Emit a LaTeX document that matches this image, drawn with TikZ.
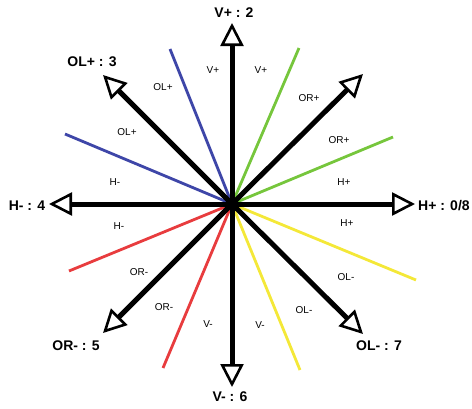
\documentclass[tikz,border=0pt]{standalone}
\usepackage{fontspec}
\setmainfont{Liberation Sans}
\usetikzlibrary{arrows.meta}
\definecolor{cblue}{RGB}{62,70,168}
\definecolor{cgreen}{RGB}{118,198,60}
\definecolor{cred}{RGB}{232,60,62}
\definecolor{cyel}{RGB}{244,232,56}
\tikzset{
  bigarrow/.style={line width=5pt, -{Triangle[open, length=23pt, width=23pt, line width=2.6pt, fill=white]}},
  ray/.style={line width=2.8pt},
  small/.style={font=\fontsize{10}{11}\selectfont, inner sep=0pt},
  big/.style={font=\bfseries\fontsize{14}{15}\selectfont, inner sep=0pt}
}
\begin{document}
\begin{tikzpicture}[x=1pt,y=-1pt]
\useasboundingbox (0,0) rectangle (472,408);
\coordinate (c) at (232,204);
% colored rays
\coordinate (b1) at (170,49);
\coordinate (b2) at (65,134);
\coordinate (g1) at (299,48);
\coordinate (g2) at (393,137);
\coordinate (r1) at (69,271);
\coordinate (r2) at (163,368);
\coordinate (y1) at (416,280);
\coordinate (y2) at (300,370);
\draw[ray, cblue] (c) -- (b1);
\draw[ray, cblue] (c) -- (b2);
\draw[ray, cgreen] (c) -- (g1);
\draw[ray, cgreen] (c) -- (g2);
\draw[ray, cred] (c) -- (r1);
\draw[ray, cred] (c) -- (r2);
\draw[ray, cyel] (c) -- (y1);
\draw[ray, cyel] (c) -- (y2);
% arrow tips
\coordinate (tV) at (232,23);
\coordinate (tVm) at (232,387);
\coordinate (tH) at (415,204);
\coordinate (tHm) at (49,204);
\coordinate (tOLp) at (103,75);
\coordinate (tORp) at (363,74);
\coordinate (tORm) at (103,333);
\coordinate (tOLm) at (363,334);
\draw[bigarrow] (c) -- (tV);
\draw[bigarrow] (c) -- (tVm);
\draw[bigarrow] (c) -- (tH);
\draw[bigarrow] (c) -- (tHm);
\draw[bigarrow] (c) -- (tOLp);
\draw[bigarrow] (c) -- (tORp);
\draw[bigarrow] (c) -- (tORm);
\draw[bigarrow] (c) -- (tOLm);
% big labels
\node[big] (LV) at (234,13) {V+ : 2};
\node[big] (LOLp) at (92,62) {OL+ : 3};
\node[big] (LHm) at (27,206) {H- : 4};
\node[big, anchor=west] (LH) at (418,206) {H+ : 0/8};
\node[big] (LORm) at (76,346) {OR- : 5};
\node[big] (LOLm) at (379,346) {OL- : 7};
\node[big] (LVm) at (230,397) {V- : 6};
% small labels
\node[small] (s1) at (213,70) {V+};
\node[small] (s2) at (261,70) {V+};
\node[small] (s3) at (163,87) {OL+};
\node[small] (s4) at (127,132) {OL+};
\node[small] (s5) at (115,182) {H-};
\node[small] (s6) at (309,98) {OR+};
\node[small] (s7) at (339,140) {OR+};
\node[small] (s8) at (344,182) {H+};
\node[small] (s9) at (119,226) {H-};
\node[small] (s10) at (139,272) {OR-};
\node[small] (s11) at (164,307) {OR-};
\node[small] (s12) at (208,324) {V-};
\node[small] (s13) at (347,223) {H+};
\node[small] (s14) at (346,277) {OL-};
\node[small] (s15) at (304,310) {OL-};
\node[small] (s16) at (260,325) {V-};
\end{tikzpicture}
\end{document}
